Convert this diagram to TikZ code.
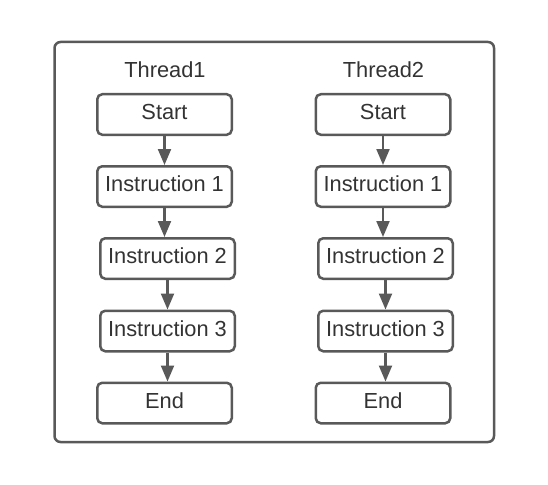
\documentclass[tikz,border=0pt]{standalone}
\usepackage{fontspec}
\setmainfont{Liberation Sans}
\usetikzlibrary{arrows.meta}
\definecolor{linegray}{HTML}{595959}
\definecolor{textgray}{HTML}{333333}
\begin{document}
\begin{tikzpicture}[x=1pt, y=-1pt, every node/.style={text=textgray, font=\fontsize{21.8}{26}\selectfont}, stepbox/.style={draw=linegray, line width=2.5pt, rounded corners=5pt, minimum width=134.5pt, minimum height=40.5pt, inner sep=0pt, text height=16pt, text depth=6pt}, flowarrow/.style={draw=linegray, line width=2.2pt, -{Triangle[length=16pt, width=13pt]}} ]
		\useasboundingbox (0,0) rectangle (548,484);
		\draw[linegray, line width=2.5pt, rounded corners=6pt] (54.5,42) rectangle (494,442);
		\foreach \c/\x/\y in {1/164.5/167.5, 2/383/385.5} {
			\node (T\c) at (\x+0.5,69.5) {Thread\c};
			\node[stepbox] (S\c) at (\x,114.5) {Start};
			\node[stepbox] (A\c) at (\x,186.5) {Instruction 1};
			\node[stepbox] (B\c) at (\y,258.5) {Instruction 2};
			\node[stepbox] (C\c) at (\y,331) {Instruction 3};
			\node[stepbox] (E\c) at (\x,403) {End};
			\draw[flowarrow] (S\c.south) -- (S\c.south |- A\c.north);
			\draw[flowarrow] (A\c.south) -- (A\c.south |- B\c.north);
			\draw[flowarrow] (B\c.south) -- (B\c.south |- C\c.north);
			\draw[flowarrow] (C\c.south) -- (C\c.south |- E\c.north);
		}
	\end{tikzpicture}
\end{document}
